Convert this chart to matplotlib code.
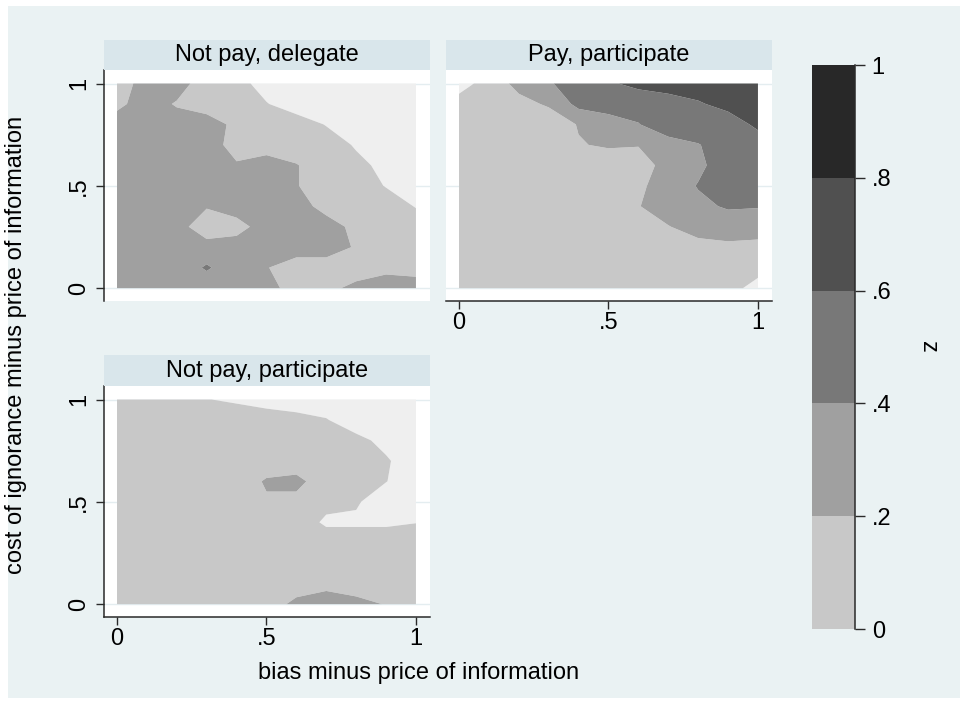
import numpy as np
import matplotlib
matplotlib.use("Agg")
import matplotlib.pyplot as plt
import matplotlib as mpl
from matplotlib.colors import ListedColormap, BoundaryNorm
from matplotlib.patches import Rectangle
from matplotlib.lines import Line2D

plt.rcParams['font.family'] = ['Liberation Sans', 'DejaVu Sans']

# ---------------- data ----------------
bias = [0.0, 0.1, 0.2, 0.3, 0.4, 0.5, 0.6, 0.7, 0.8, 0.9, 1.0]
cost = [1.0, 0.9, 0.8, 0.7, 0.6, 0.5, 0.4, 0.3, 0.2, 0.1, 0.0]   # rows, top to bottom

z_not_pay_delegate = [
    [0.08, 0.30, 0.30, 0.08, 0.07, -0.08, -0.10, -0.10, -0.10, -0.10, -0.10],
    [0.15, 0.30, 0.18, 0.10, 0.10, 0.01, -0.10, -0.10, -0.10, -0.10, -0.10],
    [0.30, 0.30, 0.30, 0.30, 0.15, 0.10, 0.10, -0.01, -0.10, -0.10, -0.10],
    [0.30, 0.30, 0.30, 0.30, 0.12, 0.10, 0.10, 0.10, -0.02, -0.10, -0.10],
    [0.30, 0.30, 0.30, 0.30, 0.22, 0.30, 0.21, 0.10, 0.05, -0.05, -0.10],
    [0.30, 0.30, 0.30, 0.30, 0.30, 0.30, 0.21, 0.10, 0.10, -0.01, -0.10],
    [0.30, 0.30, 0.30, 0.22, 0.30, 0.30, 0.30, 0.12, 0.10, 0.10, -0.01],
    [0.30, 0.30, 0.30, 0.05, 0.12, 0.30, 0.30, 0.30, 0.14, 0.10, 0.10],
    [0.30, 0.30, 0.30, 0.30, 0.30, 0.30, 0.30, 0.30, 0.18, 0.10, 0.10],
    [0.30, 0.30, 0.30, 0.42, 0.30, 0.21, 0.10, 0.10, 0.10, 0.15, 0.12],
    [0.30, 0.30, 0.30, 0.30, 0.30, 0.30, 0.08, 0.15, 0.25, 0.30, 0.30],
]

z_pay_participate = [
    [-0.10, 0.10, 0.25, 0.38, 0.50, 0.58, 0.64, 0.70, 0.70, 0.70, 0.70],
    [0.10, 0.10, 0.15, 0.22, 0.46, 0.50, 0.50, 0.50, 0.58, 0.66, 0.70],
    [0.10, 0.10, 0.10, 0.10, 0.21, 0.30, 0.39, 0.55, 0.52, 0.50, 0.64],
    [0.10, 0.10, 0.10, 0.10, 0.19, 0.22, 0.21, 0.30, 0.39, 0.50, 0.50],
    [0.10, 0.10, 0.10, 0.10, 0.10, 0.10, 0.10, 0.28, 0.36, 0.50, 0.50],
    [0.10, 0.10, 0.10, 0.10, 0.10, 0.10, 0.16, 0.30, 0.41, 0.50, 0.50],
    [0.10, 0.10, 0.10, 0.10, 0.10, 0.10, 0.19, 0.32, 0.36, 0.42, 0.41],
    [0.10, 0.10, 0.10, 0.10, 0.10, 0.10, 0.10, 0.19, 0.30, 0.30, 0.30],
    [0.10, 0.10, 0.10, 0.10, 0.10, 0.10, 0.10, 0.10, 0.12, 0.16, 0.14],
    [0.10, 0.10, 0.10, 0.10, 0.10, 0.10, 0.10, 0.10, 0.10, 0.10, 0.10],
    [0.10, 0.10, 0.10, 0.10, 0.10, 0.10, 0.10, 0.10, 0.10, 0.10, -0.10],
]

z_not_pay_participate = [
    [0.10, 0.10, 0.10, 0.005, -0.025, -0.08, -0.10, -0.10, -0.10, -0.10, -0.10],
    [0.10, 0.10, 0.10, 0.10, 0.10, 0.10, 0.06, 0.01, -0.10, -0.10, -0.10],
    [0.10, 0.10, 0.10, 0.10, 0.10, 0.10, 0.10, 0.10, 0.05, -0.05, -0.10],
    [0.10, 0.10, 0.10, 0.10, 0.10, 0.10, 0.10, 0.10, 0.10, 0.02, -0.10],
    [0.10, 0.10, 0.10, 0.10, 0.10, 0.22, 0.25, 0.10, 0.10, 0.005, -0.10],
    [0.10, 0.10, 0.10, 0.10, 0.10, 0.18, 0.15, 0.05, 0.02, -0.10, -0.10],
    [0.10, 0.10, 0.10, 0.10, 0.10, 0.10, 0.10, -0.03, -0.03, -0.03, -0.005],
    [0.10, 0.10, 0.10, 0.10, 0.10, 0.10, 0.10, 0.10, 0.10, 0.10, 0.10],
    [0.10, 0.10, 0.10, 0.10, 0.10, 0.10, 0.10, 0.10, 0.10, 0.10, 0.10],
    [0.10, 0.10, 0.10, 0.10, 0.10, 0.10, 0.10, 0.10, 0.10, 0.10, 0.10],
    [0.10, 0.10, 0.10, 0.10, 0.10, 0.10, 0.25, 0.38, 0.26, 0.19, 0.10],
]

panel_titles = ["Not pay, delegate", "Pay, participate", "Not pay, participate"]
level_edges = [-0.2, 0.0, 0.2, 0.4, 0.6, 0.8, 1.0]
band_colors = ['#efefef', '#c8c8c8', '#a0a0a0', '#787878', '#505050', '#282828']
cbar_ticks = [0, 0.2, 0.4, 0.6, 0.8, 1.0]
cbar_ticklabels = ['0', '.2', '.4', '.6', '.8', '1']
axis_ticks = [0, 0.5, 1]
axis_ticklabels = ['0', '.5', '1']
xlabel = "bias minus price of information"
ylabel = "cost of ignorance minus price of information"
zlabel = "z"

# ---------------- figure ----------------
W, H = 968, 706
fig = plt.figure(figsize=(W / 100, H / 100), dpi=100, facecolor='white')

BG = '#eaf2f3'
STRIP = '#d9e6eb'
AXC = '#2a2a2a'
FS = 17

fig.patches.append(Rectangle((8 / W, 1 - 698 / H), (960 - 8) / W, (698 - 6) / H,
                             transform=fig.transFigure, facecolor=BG,
                             edgecolor='none', zorder=-10))


def px_axes(x0, y0, x1, y1, **kw):
    return fig.add_axes([x0 / W, 1 - y1 / H, (x1 - x0) / W, (y1 - y0) / H], **kw)


panels = [
    dict(z=z_not_pay_delegate, plot=(104, 70, 430, 301), strip=(104, 40, 430, 70),
         left=True, bottom=False),
    dict(z=z_pay_participate, plot=(446, 70, 772, 301), strip=(446, 40, 772, 70),
         left=False, bottom=True),
    dict(z=z_not_pay_participate, plot=(104, 386, 430, 617), strip=(104, 355, 430, 386),
         left=True, bottom=True),
]

xs = np.array(bias)
ys = np.array(cost)[::-1]

for p, title in zip(panels, panel_titles):
    ax = px_axes(*p['plot'])
    ax.set_facecolor('white')
    Z = np.array(p['z'])[::-1]
    ax.contourf(xs, ys, Z, levels=level_edges, colors=band_colors, antialiased=True)
    ax.set_xlim(-0.0435, 1.047)
    ax.set_ylim(-0.063, 1.066)
    ax.set_axisbelow(True)
    ax.set_yticks(axis_ticks)
    ax.grid(axis='y', color='#e4edf0', lw=1.0)
    for s in ['top', 'right']:
        ax.spines[s].set_visible(False)
    if p['left']:
        ax.spines['left'].set_color(AXC)
        ax.spines['left'].set_linewidth(1.1)
        ax.set_yticklabels(axis_ticklabels, rotation=90, va='center', fontsize=FS)
        ax.tick_params(axis='y', direction='out', length=6, width=1, color=AXC, pad=4)
    else:
        ax.spines['left'].set_visible(False)
        ax.tick_params(axis='y', length=0, labelleft=False)
    if p['bottom']:
        ax.spines['bottom'].set_color(AXC)
        ax.spines['bottom'].set_linewidth(1.1)
        ax.set_xticks(axis_ticks)
        ax.set_xticklabels(axis_ticklabels, fontsize=FS)
        ax.tick_params(axis='x', direction='out', length=6, width=1, color=AXC, pad=2)
    else:
        ax.spines['bottom'].set_visible(False)
        ax.set_xticks([])
    # strip title
    sax = px_axes(*p['strip'])
    sax.set_facecolor(STRIP)
    sax.set_xticks([])
    sax.set_yticks([])
    for s in sax.spines.values():
        s.set_visible(False)
    sax.text(0.5, 0.5, title, ha='center', va='center', fontsize=FS,
             transform=sax.transAxes)

# colorbar
cax = px_axes(812, 65, 855, 629)
cmap = ListedColormap(band_colors[1:])
norm = BoundaryNorm(cbar_ticks, cmap.N)
sm = mpl.cm.ScalarMappable(norm=norm, cmap=cmap)
cb = fig.colorbar(sm, cax=cax, ticks=cbar_ticks)
cb.outline.set_visible(False)
cb.ax.set_yticklabels(cbar_ticklabels, fontsize=FS)
cb.ax.tick_params(axis='y', direction='out', length=7, width=1, color=AXC, pad=5)
cax.add_line(Line2D([1, 1], [0, 1], transform=cax.transAxes, color=AXC, lw=1.1,
                    clip_on=False))

fig.text(928 / W, 1 - 347 / H, zlabel, rotation=270, ha='center', va='center', fontsize=FS)
fig.text(419 / W, 1 - 673 / H, xlabel, ha='center', va='center', fontsize=FS)
fig.text(16 / W, 1 - 345 / H, ylabel, rotation=90, ha='center', va='center', fontsize=FS)

fig.savefig('out.png', dpi=100, facecolor='white')
